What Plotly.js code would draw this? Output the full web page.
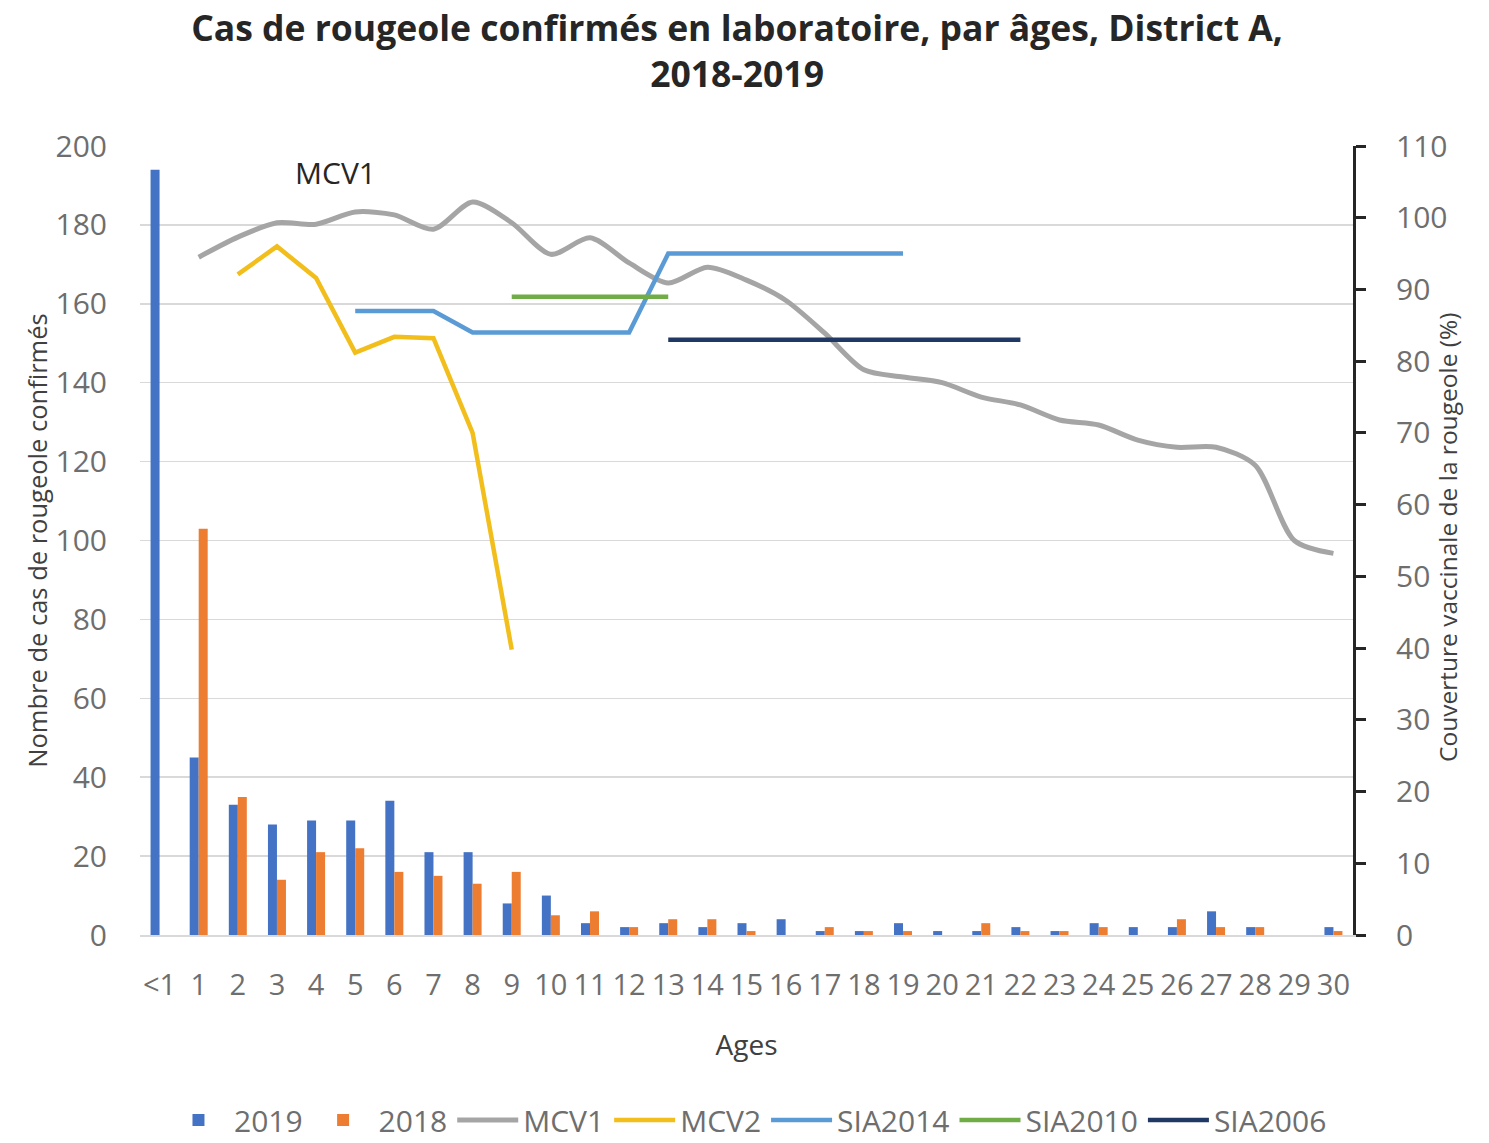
<!DOCTYPE html>
<html>
<head>
<meta charset="utf-8">
<script src="https://cdn.plot.ly/plotly-3.0.1.min.js"></script>
<style>html,body{margin:0;padding:0;background:#fff;}#chart{width:1489px;height:1143px;}</style>
</head>
<body>
<div id="chart"></div>
<script>
// Categories (ages)
const ages = ['<1','1','2','3','4','5','6','7','8','9','10','11','12','13','14','15','16','17','18','19','20','21','22','23','24','25','26','27','28','29','30'];

// Confirmed cases (left axis)
const cases2019 = [194,45,33,28,29,29,34,21,21,8,10,3,2,3,2,3,4,1,1,3,1,1,2,1,3,2,2,6,2,0,2];
const cases2018 = [0,103,35,14,21,22,16,15,13,16,5,6,2,4,4,1,0,2,1,1,0,3,1,1,2,0,4,2,2,0,1];

// Vaccination coverage (right axis, %)
const mcv1Ages = ['1','2','3','4','5','6','7','8','9','10','11','12','13','14','15','16','17','18','19','20','21','22','23','24','25','26','27','28','29','30'];
const mcv1 = [94.5,97.3,99.3,99.1,100.8,100.4,98.4,102.2,99.3,94.9,97.2,93.7,90.9,93.1,91.3,88.5,83.9,78.8,77.8,77.0,75.0,73.9,71.8,71.1,69.0,68.0,68.0,65.5,55.0,53.2];

const mcv2Ages = ['2','3','4','5','6','7','8','9'];
const mcv2 = [92.1,96.0,91.6,81.2,83.4,83.2,70.0,39.8];

const sia2014Ages = ['5','6','7','8','9','10','11','12','13','14','15','16','17','18','19'];
const sia2014 = [87,87,87,84,84,84,84,84,95,95,95,95,95,95,95];

const sia2010Ages = ['9','10','11','12','13'];
const sia2010 = [89,89,89,89,89];

const sia2006Ages = ['13','14','15','16','17','18','19','20','21','22'];
const sia2006 = [83,83,83,83,83,83,83,83,83,83];

const FONT = '"Open Sans", "Liberation Sans", sans-serif';
const GREY = '#6e6e6e';

const traces = [
  {type:'bar', name:'2019', x:ages, y:cases2019, marker:{color:'#4472C4'}, yaxis:'y'},
  {type:'bar', name:'2018', x:ages, y:cases2018, marker:{color:'#ED7D31'}, yaxis:'y'},
  {type:'scatter', mode:'lines', name:'MCV1', x:mcv1Ages, y:mcv1, yaxis:'y2', line:{color:'#A5A5A5', width:5, shape:'spline', smoothing:0.8}},
  {type:'scatter', mode:'lines', name:'MCV2', x:mcv2Ages, y:mcv2, yaxis:'y2', line:{color:'#F2BE1B', width:4.5}},
  {type:'scatter', mode:'lines', name:'SIA2014', x:sia2014Ages, y:sia2014, yaxis:'y2', line:{color:'#5B9BD5', width:4.5}},
  {type:'scatter', mode:'lines', name:'SIA2010', x:sia2010Ages, y:sia2010, yaxis:'y2', line:{color:'#70AD47', width:4.5}},
  {type:'scatter', mode:'lines', name:'SIA2006', x:sia2006Ages, y:sia2006, yaxis:'y2', line:{color:'#1F3864', width:4.5}}
];

const layout = {
  width:1489, height:1143,
  paper_bgcolor:'#fff', plot_bgcolor:'#fff',
  font:{family:FONT, color:GREY, size:29},
  margin:{l:140, r:136, t:146, b:208, autoexpand:false},
  title:{
    text:'<b>Cas de rougeole confirmés en laboratoire, par âges, District A,<br>2018-2019</b>',
    font:{family:FONT, size:35.5, color:'#262626'},
    x:0.495, xanchor:'center', xref:'container',
    y:0.964, yanchor:'top', yref:'container'
  },
  barmode:'group', bargap:0.54, bargroupgap:0,
  showlegend:true,
  legend:{orientation:'h', x:0.502, xanchor:'center', y:-0.2345, yanchor:'middle', xref:'container',
          font:{family:FONT, size:30, color:GREY}, tracegroupgap:0, itemwidth:61, traceorder:'normal'},
  xaxis:{
    type:'category', categoryorder:'array', categoryarray:ages,
    tickmode:'array', tickvals:ages, ticktext:ages, tickangle:0,
    showgrid:false, showline:true, linecolor:'#d9d9d9', linewidth:1.5,
    ticks:'', ticklabelstandoff:24, tickfont:{size:29, color:GREY},
    zeroline:false,
    title:{text:'Ages', font:{size:28, color:'#404040'}, standoff:33}
  },
  yaxis:{
    range:[0,200], dtick:20, tick0:0,
    showgrid:true, gridcolor:'#d9d9d9', gridwidth:1.5,
    showline:false, zeroline:false, ticks:'',
    ticklabelstandoff:32, tickfont:{size:30, color:GREY},
    title:{text:'Nombre de cas de rougeole confirmés', font:{size:25.5, color:'#404040'}, standoff:0}
  },
  yaxis2:{
    overlaying:'y', side:'right', range:[0,110], dtick:10, tick0:0,
    showgrid:false, zeroline:false,
    showline:true, linecolor:'#262626', linewidth:3,
    ticks:'outside', ticklen:10, tickwidth:3, tickcolor:'#262626',
    ticklabelstandoff:24, tickfont:{size:30, color:GREY}
  },
  annotations:[
    {text:'MCV1', xref:'paper', yref:'paper', x:0.161, y:0.967, xanchor:'center', yanchor:'middle',
     showarrow:false, font:{family:FONT, size:30, color:'#262626'}},
    {text:'Couverture vaccinale de la rougeole (%)', xref:'paper', yref:'paper', x:1.078, y:0.504,
     xanchor:'center', yanchor:'middle', textangle:-90, showarrow:false,
     font:{family:FONT, size:24.5, color:'#404040'}}
  ]
};

Plotly.newPlot('chart', traces, layout, {displayModeBar:false, staticPlot:true});
</script>
</body>
</html>
